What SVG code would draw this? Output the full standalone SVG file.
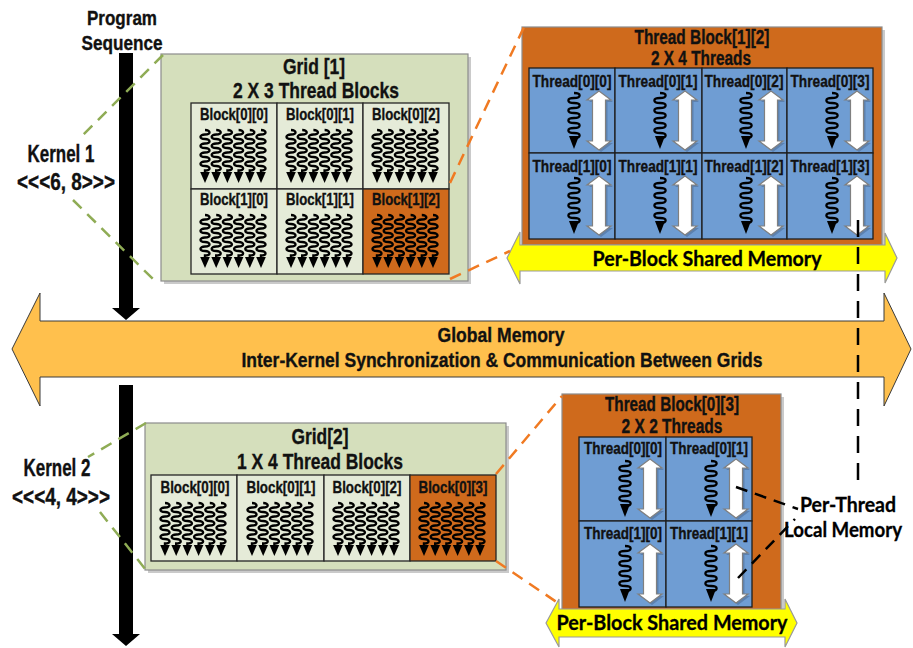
<svg xmlns="http://www.w3.org/2000/svg" width="913" height="648" viewBox="0 0 913 648">
<defs>
<style>
.t{font-family:"Liberation Sans Narrow","Liberation Sans",Arial,sans-serif;font-weight:bold;fill:#111;stroke:#111;stroke-width:0.35;text-anchor:middle}
.c{font-family:Lato,"Open Sans","Liberation Sans",sans-serif;font-weight:bold;fill:#000;stroke:#000;stroke-width:0.3;text-anchor:middle}
.grid{fill:#d5dfbc;stroke:#8c8c8c;stroke-width:1.2}
.shadow{fill:#a6a6a6;opacity:.6}
.blk{fill:#e5ebd8;stroke:#262626;stroke-width:1.3}
.blko{fill:#cf6a1c;stroke:#262626;stroke-width:1.3}
.tb{fill:#cf6a1c;stroke:#8c8c8c;stroke-width:1.2}
.cell{fill:#6f9dd3;stroke:#1e1e1e;stroke-width:1.3}
.sq{fill:none;stroke:#000;stroke-width:2.4}
.sqt{fill:none;stroke:#000;stroke-width:2.3}
.da{fill:#fff;stroke:#808080;stroke-width:1.2}
.das{fill:#4d6a91;opacity:.55}
.gd{fill:none;stroke:#8fac55;stroke-width:2.5;stroke-dasharray:12 8}
.od{fill:none;stroke:#f07a22;stroke-width:2.5;stroke-dasharray:12 8}
.kd{fill:none;stroke:#000;stroke-width:2.5;stroke-dasharray:17 10}
.pd{fill:none;stroke:#000;stroke-width:2.5;stroke-dasharray:12 8}
.yel{fill:#ffff00;stroke:#9a9a9a;stroke-width:1.2}
.glob{fill:#ffc04d;stroke:#3a3a3a;stroke-width:1}
</style>
<g id="sqb">
<path class="sq" d="M0,27 c6,0 6,4.5 0,4.5 c-6,0 -6,4.5 0,4.5 c6,0 6,4.5 0,4.5 c-6,0 -6,4.5 0,4.5 c6,0 6,4.5 0,4.5 c-6,0 -6,4.5 0,4.5 c6,0 6,4.5 0,4.5 c-6,0 -6,4.5 0,4.5 c6,0 6,4.5 0,4.5 l0,3"/>
<polygon points="-4.8,69 4.8,69 0,80"/>
</g>
<g id="b6">
<use href="#sqb" x="14"/><use href="#sqb" x="25.2"/><use href="#sqb" x="36.4"/><use href="#sqb" x="47.6"/><use href="#sqb" x="58.8"/><use href="#sqb" x="70"/>
</g>
<g id="th">
<path class="sqt" d="M45,25 c7.5,0 7.5,5 0,5 c-7.5,0 -7.5,5 0,5 c7.5,0 7.5,5 0,5 c-7.5,0 -7.5,5 0,5 c7.5,0 7.5,5 0,5 c-7.5,0 -7.5,5 0,5 c7.5,0 7.5,5 0,5 c-7.5,0 -7.5,5 0,5 c7.5,0 7.5,5 0,5"/>
<polygon points="40,68 50,68 45,81"/>
<polygon class="das" points="72,25 84,34 78.5,34 78.5,75 84,75 72,84 60,75 65.5,75 65.5,34 60,34"/>
<polygon class="da" points="70,23 82,32 76.5,32 76.5,73 82,73 70,82 58,73 63.5,73 63.5,32 58,32"/>
</g>
</defs>

<rect width="913" height="648" fill="#fff"/>

<g id="program-sequence">
<text class="t" x="122" y="25" font-size="20" textLength="70" lengthAdjust="spacingAndGlyphs">Program</text>
<text class="t" x="122" y="50" font-size="20" textLength="81" lengthAdjust="spacingAndGlyphs">Sequence</text>
<polygon points="119,53 133,53 133,308 140,308 126,320 112,308 119,308" fill="#000"/>
<polygon points="119,385 133,385 133,634 140,634 126,646 112,634 119,634" fill="#000"/>
</g>

<g id="kernel1">
<text class="t" x="61" y="162" font-size="23" textLength="67" lengthAdjust="spacingAndGlyphs">Kernel 1</text>
<text class="t" x="66" y="190" font-size="23" textLength="98" lengthAdjust="spacingAndGlyphs">&lt;&lt;&lt;6, 8&gt;&gt;&gt;</text>
</g>
<g id="kernel2">
<text class="t" x="57" y="476" font-size="23" textLength="67" lengthAdjust="spacingAndGlyphs">Kernel 2</text>
<text class="t" x="61" y="505" font-size="23" textLength="98" lengthAdjust="spacingAndGlyphs">&lt;&lt;&lt;4, 4&gt;&gt;&gt;</text>
</g>

<g id="grid1">
<rect class="shadow" x="164" y="57" width="307" height="227"/>
<rect class="grid" x="161" y="54" width="307" height="227"/>
<text class="t" x="314" y="74" font-size="22" textLength="62" lengthAdjust="spacingAndGlyphs">Grid [1]</text>
<text class="t" x="316" y="98" font-size="22" textLength="166" lengthAdjust="spacingAndGlyphs">2 X 3 Thread Blocks</text>
<g id="g1-b00"><rect class="blk" x="191" y="103" width="86" height="86"/><text class="t" x="234" y="120" font-size="17" textLength="68" lengthAdjust="spacingAndGlyphs">Block[0][0]</text><use href="#b6" x="191" y="103"/></g>
<g id="g1-b01"><rect class="blk" x="277" y="103" width="86" height="86"/><text class="t" x="320" y="120" font-size="17" textLength="68" lengthAdjust="spacingAndGlyphs">Block[0][1]</text><use href="#b6" x="277" y="103"/></g>
<g id="g1-b02"><rect class="blk" x="363" y="103" width="86" height="86"/><text class="t" x="406" y="120" font-size="17" textLength="68" lengthAdjust="spacingAndGlyphs">Block[0][2]</text><use href="#b6" x="363" y="103"/></g>
<g id="g1-b10"><rect class="blk" x="191" y="189" width="86" height="85"/><text class="t" x="234" y="205" font-size="17" textLength="68" lengthAdjust="spacingAndGlyphs">Block[1][0]</text><use href="#b6" x="191" y="188"/></g>
<g id="g1-b11"><rect class="blk" x="277" y="189" width="86" height="85"/><text class="t" x="320" y="205" font-size="17" textLength="68" lengthAdjust="spacingAndGlyphs">Block[1][1]</text><use href="#b6" x="277" y="188"/></g>
<g id="g1-b12"><rect class="blko" x="363" y="189" width="86" height="85"/><text class="t" x="406" y="205" font-size="17" textLength="68" lengthAdjust="spacingAndGlyphs">Block[1][2]</text><use href="#b6" x="363" y="188"/></g>
</g>

<g id="threadblock12">
<rect class="shadow" x="525" y="30" width="360" height="218"/>
<rect class="tb" x="522" y="27" width="360" height="218"/>
<text class="t" x="702" y="44" font-size="19.5" textLength="135" lengthAdjust="spacingAndGlyphs">Thread Block[1][2]</text>
<text class="t" x="701" y="65" font-size="19.5" textLength="100" lengthAdjust="spacingAndGlyphs">2 X 4 Threads</text>
<g id="tb12-t00"><rect class="cell" x="529" y="68" width="86" height="85"/><text class="t" x="572" y="87" font-size="16.5" textLength="79" lengthAdjust="spacingAndGlyphs">Thread[0][0]</text><use href="#th" x="529" y="68"/></g>
<g id="tb12-t01"><rect class="cell" x="615" y="68" width="87" height="85"/><text class="t" x="658" y="87" font-size="16.5" textLength="79" lengthAdjust="spacingAndGlyphs">Thread[0][1]</text><use href="#th" x="615" y="68"/></g>
<g id="tb12-t02"><rect class="cell" x="702" y="68" width="85" height="85"/><text class="t" x="744" y="87" font-size="16.5" textLength="79" lengthAdjust="spacingAndGlyphs">Thread[0][2]</text><use href="#th" x="701" y="68"/></g>
<g id="tb12-t03"><rect class="cell" x="787" y="68" width="86" height="85"/><text class="t" x="830" y="87" font-size="16.5" textLength="79" lengthAdjust="spacingAndGlyphs">Thread[0][3]</text><use href="#th" x="787" y="68"/></g>
<g id="tb12-t10"><rect class="cell" x="529" y="153" width="86" height="86"/><text class="t" x="572" y="172" font-size="16.5" textLength="79" lengthAdjust="spacingAndGlyphs">Thread[1][0]</text><use href="#th" x="529" y="153"/></g>
<g id="tb12-t11"><rect class="cell" x="615" y="153" width="87" height="86"/><text class="t" x="658" y="172" font-size="16.5" textLength="79" lengthAdjust="spacingAndGlyphs">Thread[1][1]</text><use href="#th" x="615" y="153"/></g>
<g id="tb12-t12"><rect class="cell" x="702" y="153" width="85" height="86"/><text class="t" x="744" y="172" font-size="16.5" textLength="79" lengthAdjust="spacingAndGlyphs">Thread[1][2]</text><use href="#th" x="701" y="153"/></g>
<g id="tb12-t13"><rect class="cell" x="787" y="153" width="86" height="86"/><text class="t" x="830" y="172" font-size="16.5" textLength="79" lengthAdjust="spacingAndGlyphs">Thread[1][3]</text><use href="#th" x="787" y="153"/></g>
</g>

<g id="shared1">
<polygon class="yel" points="507,258 520,232 520,245 885,245 885,233 897,258 885,283 885,271 520,271 520,284"/>
<text class="c" x="707" y="266" font-size="21" textLength="229" lengthAdjust="spacingAndGlyphs">Per-Block Shared Memory</text>
</g>

<g id="global-memory">
<polygon class="glob" points="12,349 40,293 40,321 884,321 884,293 911,349 884,406 884,377 40,377 40,406"/>
<text class="t" x="501" y="342" font-size="20.5" textLength="127" lengthAdjust="spacingAndGlyphs">Global Memory</text>
<text class="t" x="502" y="367" font-size="20.5" textLength="521" lengthAdjust="spacingAndGlyphs">Inter-Kernel Synchronization &amp; Communication Between Grids</text>
</g>

<g id="grid2">
<rect class="shadow" x="148" y="426" width="361" height="147"/>
<rect class="grid" x="145" y="423" width="361" height="147"/>
<text class="t" x="320" y="444" font-size="22" textLength="57" lengthAdjust="spacingAndGlyphs">Grid[2]</text>
<text class="t" x="320" y="469" font-size="22" textLength="166" lengthAdjust="spacingAndGlyphs">1 X 4 Thread Blocks</text>
<g id="g2-b00"><rect class="blk" x="151" y="475" width="86" height="86"/><text class="t" x="195" y="493" font-size="17" textLength="69" lengthAdjust="spacingAndGlyphs">Block[0][0]</text><use href="#b6" x="151" y="476"/></g>
<g id="g2-b01"><rect class="blk" x="237" y="475" width="87" height="86"/><text class="t" x="281" y="493" font-size="17" textLength="69" lengthAdjust="spacingAndGlyphs">Block[0][1]</text><use href="#b6" x="238" y="476"/></g>
<g id="g2-b02"><rect class="blk" x="324" y="475" width="86" height="86"/><text class="t" x="367" y="493" font-size="17" textLength="69" lengthAdjust="spacingAndGlyphs">Block[0][2]</text><use href="#b6" x="324" y="476"/></g>
<g id="g2-b03"><rect class="blko" x="410" y="475" width="86" height="86"/><text class="t" x="453" y="493" font-size="17" textLength="69" lengthAdjust="spacingAndGlyphs">Block[0][3]</text><use href="#b6" x="410" y="476"/></g>
</g>

<g id="threadblock03">
<rect class="shadow" x="565" y="397" width="219" height="217"/>
<rect class="tb" x="562" y="394" width="219" height="217"/>
<text class="t" x="672" y="411" font-size="19.5" textLength="134" lengthAdjust="spacingAndGlyphs">Thread Block[0][3]</text>
<text class="t" x="672" y="433" font-size="19.5" textLength="101" lengthAdjust="spacingAndGlyphs">2 X 2 Threads</text>
<g id="tb03-t00"><rect class="cell" x="579" y="437" width="87" height="84"/><text class="t" x="623" y="454" font-size="16.5" textLength="78" lengthAdjust="spacingAndGlyphs">Thread[0][0]</text><use href="#th" x="580" y="436"/></g>
<g id="tb03-t01"><rect class="cell" x="666" y="437" width="86" height="84"/><text class="t" x="709" y="454" font-size="16.5" textLength="78" lengthAdjust="spacingAndGlyphs">Thread[0][1]</text><use href="#th" x="666" y="436"/></g>
<g id="tb03-t10"><rect class="cell" x="579" y="521" width="87" height="86"/><text class="t" x="623" y="539" font-size="16.5" textLength="78" lengthAdjust="spacingAndGlyphs">Thread[1][0]</text><use href="#th" x="580" y="521"/></g>
<g id="tb03-t11"><rect class="cell" x="666" y="521" width="86" height="86"/><text class="t" x="709" y="539" font-size="16.5" textLength="78" lengthAdjust="spacingAndGlyphs">Thread[1][1]</text><use href="#th" x="666" y="521"/></g>
</g>

<g id="shared2">
<polygon class="yel" points="546,623 559,599 559,609 785,609 785,599 797,623 785,647 785,637 559,637 559,647"/>
<text class="c" x="672" y="630" font-size="21" textLength="231" lengthAdjust="spacingAndGlyphs">Per-Block Shared Memory</text>
</g>

<g id="per-thread-label">
<text class="c" x="848" y="512" font-size="21" textLength="96" lengthAdjust="spacingAndGlyphs">Per-Thread</text>
<text class="c" x="843" y="537" font-size="20" textLength="118" lengthAdjust="spacingAndGlyphs">Local Memory</text>
</g>

<g id="connectors">
<path class="gd" d="M163,55 L83,135"/>
<path class="gd" d="M73,200 L157,283"/>
<path class="gd" d="M146,423 L88,457"/>
<path class="gd" d="M100,512 L146,570"/>
<path class="od" d="M450,183 L524,27"/>
<path class="od" d="M450,279 L510,251"/>
<path class="od" d="M496,474 L562,396"/>
<path class="od" d="M496,561 L558,603"/>
<path class="kd" d="M858,220 L858,490"/>
<path class="pd" d="M736,487 L798,509"/>
<path class="pd" d="M738,578 L795,519"/>
</g>
</svg>
